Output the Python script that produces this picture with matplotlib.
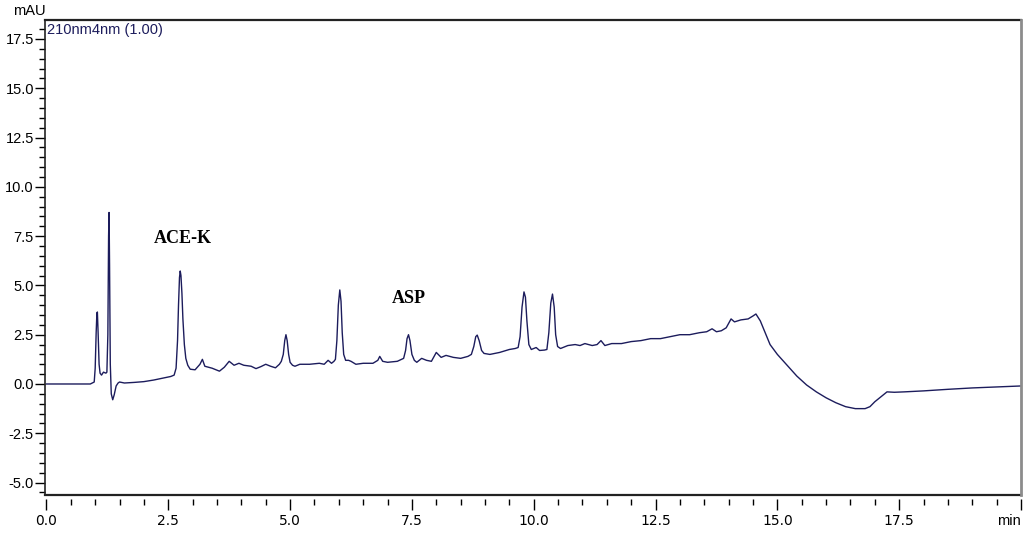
import matplotlib
matplotlib.use("Agg")
import matplotlib.pyplot as plt
from matplotlib.ticker import MultipleLocator, FixedLocator, FixedFormatter

# ---- data ----
time_min = [0.0, 0.5, 0.9, 0.98, 1.0, 1.02, 1.035, 1.045, 1.06, 1.08, 1.10, 1.13, 1.17, 1.22,
            1.24, 1.26, 1.275, 1.285, 1.295, 1.31, 1.33, 1.36, 1.39, 1.43, 1.47, 1.5, 1.6,
            1.8, 2.0, 2.2, 2.4, 2.55, 2.62, 2.66, 2.69, 2.71, 2.73, 2.745, 2.76, 2.78, 2.80,
            2.83, 2.86, 2.9, 2.95, 3.05, 3.15, 3.2, 3.25, 3.4, 3.55, 3.65, 3.75, 3.85, 3.95,
            4.05, 4.2, 4.3, 4.4, 4.5, 4.6, 4.7, 4.78, 4.82, 4.86, 4.89, 4.915, 4.94, 4.97,
            5.0, 5.05, 5.1, 5.2, 5.4, 5.6, 5.7, 5.78, 5.85, 5.9, 5.93, 5.96, 5.99, 6.02,
            6.045, 6.07, 6.1, 6.14, 6.2, 6.25, 6.35, 6.5, 6.7, 6.8, 6.84, 6.9, 7.0, 7.2,
            7.33, 7.37, 7.40, 7.43, 7.46, 7.5, 7.55, 7.6, 7.7, 7.8, 7.9, 8.0, 8.1, 8.2,
            8.35, 8.5, 8.65, 8.72, 8.77, 8.81, 8.84, 8.88, 8.93, 8.98, 9.1, 9.3, 9.5, 9.62,
            9.68, 9.72, 9.76, 9.80, 9.83, 9.86, 9.9, 9.95, 10.05, 10.12, 10.22, 10.27, 10.31,
            10.35, 10.385, 10.42, 10.45, 10.49, 10.55, 10.7, 10.85, 10.95, 11.05, 11.2, 11.3,
            11.38, 11.46, 11.6, 11.8, 12.0, 12.2, 12.4, 12.6, 12.8, 13.0, 13.2, 13.4, 13.55,
            13.66, 13.75, 13.85, 13.95, 14.05, 14.12, 14.25, 14.4, 14.5, 14.56, 14.65, 14.75,
            14.85, 15.0, 15.2, 15.4, 15.6, 15.8, 16.0, 16.2, 16.4, 16.6, 16.8, 16.9, 17.0,
            17.15, 17.25, 17.4, 17.6, 18.0, 18.5, 19.0, 19.5, 20.0]
absorbance_mau = [0.0, 0.0, 0.0, 0.1, 0.8, 2.6, 3.6, 3.65, 2.6, 1.0, 0.55, 0.45, 0.6, 0.55,
                  0.6, 2.5, 7.5, 8.7, 6.0, 1.0, -0.5, -0.8, -0.55, -0.1, 0.05, 0.1, 0.05,
                  0.08, 0.12, 0.2, 0.3, 0.38, 0.45, 0.8, 2.2, 4.0, 5.4, 5.73, 5.5, 4.6, 3.3,
                  2.0, 1.3, 0.95, 0.75, 0.72, 1.0, 1.25, 0.9, 0.8, 0.65, 0.85, 1.15, 0.95, 1.05,
                  0.95, 0.9, 0.78, 0.88, 1.0, 0.9, 0.82, 1.0, 1.15, 1.5, 2.2, 2.5, 2.2, 1.5,
                  1.1, 0.95, 0.9, 1.0, 1.0, 1.05, 1.0, 1.2, 1.05, 1.15, 1.25, 2.2, 4.0, 4.77,
                  4.2, 2.6, 1.5, 1.2, 1.2, 1.15, 1.0, 1.05, 1.05, 1.2, 1.4, 1.15, 1.1, 1.15,
                  1.3, 1.7, 2.3, 2.5, 2.2, 1.5, 1.2, 1.1, 1.3, 1.2, 1.15, 1.6, 1.35, 1.45,
                  1.35, 1.3, 1.4, 1.5, 1.9, 2.4, 2.48, 2.2, 1.7, 1.55, 1.5, 1.6, 1.75, 1.8,
                  1.85, 2.4, 3.9, 4.67, 4.4, 3.2, 2.0, 1.75, 1.85, 1.7, 1.72, 1.75, 2.6,
                  4.1, 4.56, 3.9, 2.5, 1.9, 1.8, 1.95, 2.0, 1.95, 2.05, 1.95, 2.0,
                  2.2, 1.95, 2.05, 2.05, 2.15, 2.2, 2.3, 2.3, 2.4, 2.5, 2.5, 2.6, 2.65,
                  2.8, 2.65, 2.7, 2.85, 3.3, 3.15, 3.25, 3.3, 3.45, 3.55, 3.2, 2.6,
                  2.0, 1.5, 0.95, 0.4, -0.05, -0.4, -0.7, -0.95, -1.15, -1.25, -1.25, -1.15,
                  -0.9, -0.6, -0.4, -0.42, -0.4, -0.35, -0.27, -0.2, -0.15, -0.1]

peak_labels = ["ACE-K", "ASP"]
peak_label_x = [2.8, 7.43]
peak_label_y = [7.4, 4.36]

x_tick_values = [0.0, 2.5, 5.0, 7.5, 10.0, 12.5, 15.0, 17.5, 20.0]
x_tick_labels = ["0.0", "2.5", "5.0", "7.5", "10.0", "12.5", "15.0", "17.5", ""]
x_unit_label = "min"
y_tick_values = [-5.0, -2.5, 0.0, 2.5, 5.0, 7.5, 10.0, 12.5, 15.0, 17.5]
y_tick_labels = ["-5.0", "-2.5", "0.0", "2.5", "5.0", "7.5", "10.0", "12.5", "15.0", "17.5"]

# ---- figure ----
fig = plt.figure(figsize=(10.3, 5.33), dpi=100)
ax = fig.add_axes([45 / 1030, 38 / 533, (1021 - 45) / 1030, (495 - 20) / 533])

line_color = "#1c1c5c"
ax.plot(time_min, absorbance_mau, color=line_color, lw=1.0)

ax.set_xlim(-0.03, 20.0)
ax.set_ylim(-5.63, 18.46)

tick_family = ["Liberation Sans", "DejaVu Sans"]
tick_size = 10.5

ax.xaxis.set_major_locator(FixedLocator(x_tick_values))
ax.xaxis.set_major_formatter(FixedFormatter(x_tick_labels))
ax.xaxis.set_minor_locator(MultipleLocator(0.5))
ax.yaxis.set_major_locator(FixedLocator(y_tick_values))
ax.yaxis.set_major_formatter(FixedFormatter(y_tick_labels))
ax.yaxis.set_minor_locator(MultipleLocator(0.5))

ax.tick_params(axis="x", which="major", direction="out", length=8, width=1.0, pad=3, colors="black")
ax.tick_params(axis="x", which="minor", direction="out", length=4, width=1.0, colors="black")
ax.tick_params(axis="y", which="major", direction="out", length=7, width=1.0, pad=1, colors="black")
ax.tick_params(axis="y", which="minor", direction="out", length=4, width=1.0, colors="black")

for lab in ax.get_xticklabels() + ax.get_yticklabels():
    lab.set_fontfamily(tick_family)
    lab.set_fontsize(tick_size)

# bottom ticks sit slightly below the frame line
ax.spines["bottom"].set_position(("outward", 3))
ax.spines["bottom"].set_visible(False)
ax.spines["top"].set_visible(False)
ax.spines["right"].set_visible(False)
ax.spines["left"].set_color("#222222")
ax.spines["left"].set_linewidth(1.2)
ax.plot([0, 1], [0, 0], transform=ax.transAxes, color="#222222", lw=1.6, clip_on=False)
ax.plot([0, 1], [1, 1], transform=ax.transAxes, color="#222222", lw=1.6, clip_on=False)
ax.plot([1, 1], [0, 1], transform=ax.transAxes, color="#8c8c8c", lw=2.0, clip_on=False)

# unit label at the last x tick, right-aligned so it stays inside the figure
ax.text(x_tick_values[-1], -0.0295, x_unit_label, transform=ax.get_xaxis_transform(),
        ha="right", va="top", family=tick_family, fontsize=tick_size, clip_on=False)

# texts
fig.text(29 / 1030, 1 - 11 / 533, "mAU", ha="center", va="center",
         family=tick_family, fontsize=tick_size)
ax.text(0.002, 0.993, "210nm4nm (1.00)", transform=ax.transAxes, ha="left", va="top",
        color="#1c1c5c", family=tick_family, fontsize=tick_size)

for lab, px, py in zip(peak_labels, peak_label_x, peak_label_y):
    ax.text(px, py, lab, ha="center", va="center", fontweight="bold",
            family=["Liberation Serif", "DejaVu Serif"], fontsize=13)

fig.canvas.draw()
# align the unit label vertically with the other x tick labels
ref_lab = ax.get_xticklabels()[0]
bb = ref_lab.get_window_extent()
unit_txt = ax.texts[0]
unit_txt.set_transform(matplotlib.transforms.blended_transform_factory(ax.transData, None) if False else unit_txt.get_transform())
y_axes = ax.transAxes.inverted().transform((0, bb.y1))[1]
unit_txt.set_y(y_axes)

fig.savefig("out.png", dpi=100)
